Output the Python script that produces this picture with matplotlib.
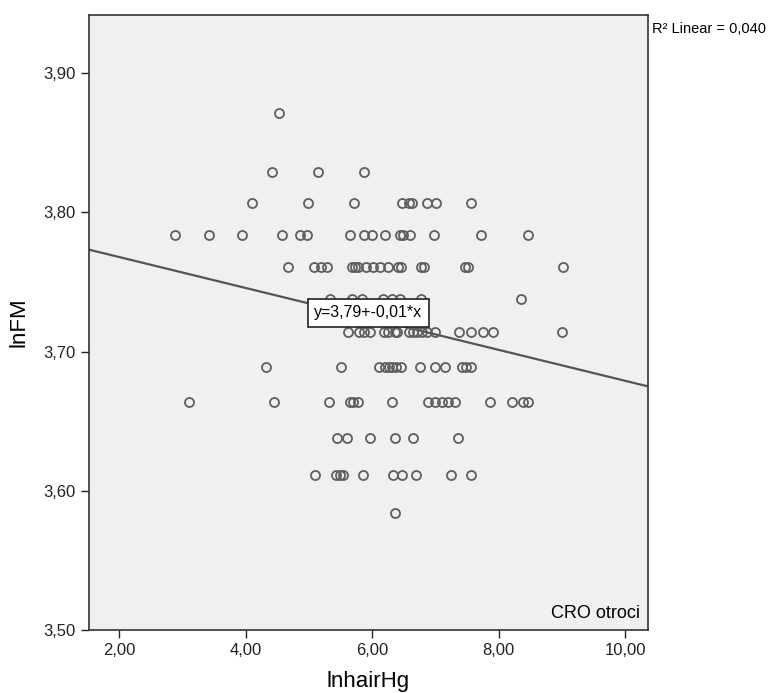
import numpy as np
import matplotlib
matplotlib.use('Agg')
import matplotlib.pyplot as plt

plt.rcParams['font.family'] = ['Liberation Sans', 'DejaVu Sans']

# lnFM levels (rows of points) and the lnhairHg values on each row
y_levels = [3.871, 3.829, 3.807, 3.784, 3.761, 3.738, 3.714, 3.689, 3.664, 3.638, 3.611, 3.584]
x_rows = [
    [4.52],
    [4.41, 5.14, 5.87],
    [4.10, 4.98, 5.71, 6.47, 6.58, 6.63, 6.87, 7.01, 7.56],
    [2.88, 3.42, 3.94, 4.57, 4.86, 4.97, 5.65, 5.87, 6.00, 6.20, 6.44, 6.49, 6.60, 6.98, 7.72, 8.47],
    [4.67, 5.08, 5.19, 5.28, 5.68, 5.73, 5.77, 5.90, 6.01, 6.12, 6.25, 6.41, 6.46, 6.77, 6.82, 7.47, 7.52, 9.02],
    [5.33, 5.68, 5.84, 6.17, 6.31, 6.44, 6.77, 8.35],
    [5.62, 5.79, 5.87, 5.96, 6.19, 6.25, 6.36, 6.39, 6.58, 6.65, 6.71, 6.79, 6.87, 6.99, 7.37, 7.56, 7.75, 7.91, 9.00],
    [4.32, 5.51, 6.11, 6.20, 6.27, 6.31, 6.38, 6.46, 6.76, 6.99, 7.15, 7.42, 7.48, 7.56],
    [3.10, 4.45, 5.32, 5.65, 5.70, 5.77, 6.31, 6.88, 6.99, 7.10, 7.20, 7.31, 7.86, 8.21, 8.39, 8.47],
    [5.44, 5.60, 5.96, 6.36, 6.65, 7.36],
    [5.09, 5.43, 5.49, 5.54, 5.85, 6.33, 6.47, 6.69, 7.25, 7.56],
    [6.36],
]

# linear fit as drawn in the picture (y = 3,79 - 0,011x)
fit_intercept = 3.790
fit_slope = -0.0111

x_ticks = [2, 4, 6, 8, 10]
y_ticks = [3.50, 3.60, 3.70, 3.80, 3.90]

x = np.concatenate([np.array(r) for r in x_rows])
y = np.concatenate([np.full(len(r), lv) for r, lv in zip(x_rows, y_levels)])

fig = plt.figure(figsize=(7.71, 6.93), dpi=100)
ax = fig.add_axes([0.1154, 0.0909, 0.8405 - 0.1154, 0.9784 - 0.0909])
ax.set_facecolor('#f0f0f0')

ax.plot(x, y, 'o', mfc='none', mec='#5e5e5e', ms=6.5, mew=1.3, zorder=3)

xlim = (1.517, 10.364)
xx = np.array(xlim)
ax.plot(xx, fit_intercept + fit_slope * xx, color='#555555', lw=1.6, zorder=2)
ax.set_xlim(xlim)
ax.set_ylim(3.50, 3.9417)

ax.set_xticks(x_ticks)
ax.set_xticklabels([('%.2f' % v).replace('.', ',') for v in x_ticks])
ax.set_yticks(y_ticks)
ax.set_yticklabels([('%.2f' % v).replace('.', ',') for v in y_ticks])
ax.tick_params(direction='out', length=6, width=1, labelsize=12, colors='#222222')
for s in ax.spines.values():
    s.set_color('#333333')
    s.set_linewidth(1.2)

ax.set_xlabel('lnhairHg', fontsize=16, labelpad=9)
ax.set_ylabel('lnFM', fontsize=16, labelpad=10)

# equation label on the line
ax.text(5.94, 3.7277, 'y=3,79+-0,01*x', fontsize=11.5, ha='center', va='center',
        bbox=dict(boxstyle='square,pad=0.4', fc='white', ec='#222222', lw=1.2), zorder=4)

ax.text(0.985, 0.013, 'CRO otroci', transform=ax.transAxes, ha='right', va='bottom', fontsize=13)
fig.text(0.8455, 0.968, 'R² Linear = 0,040', ha='left', va='top', fontsize=10.5)

fig.savefig('out.png', dpi=100)
